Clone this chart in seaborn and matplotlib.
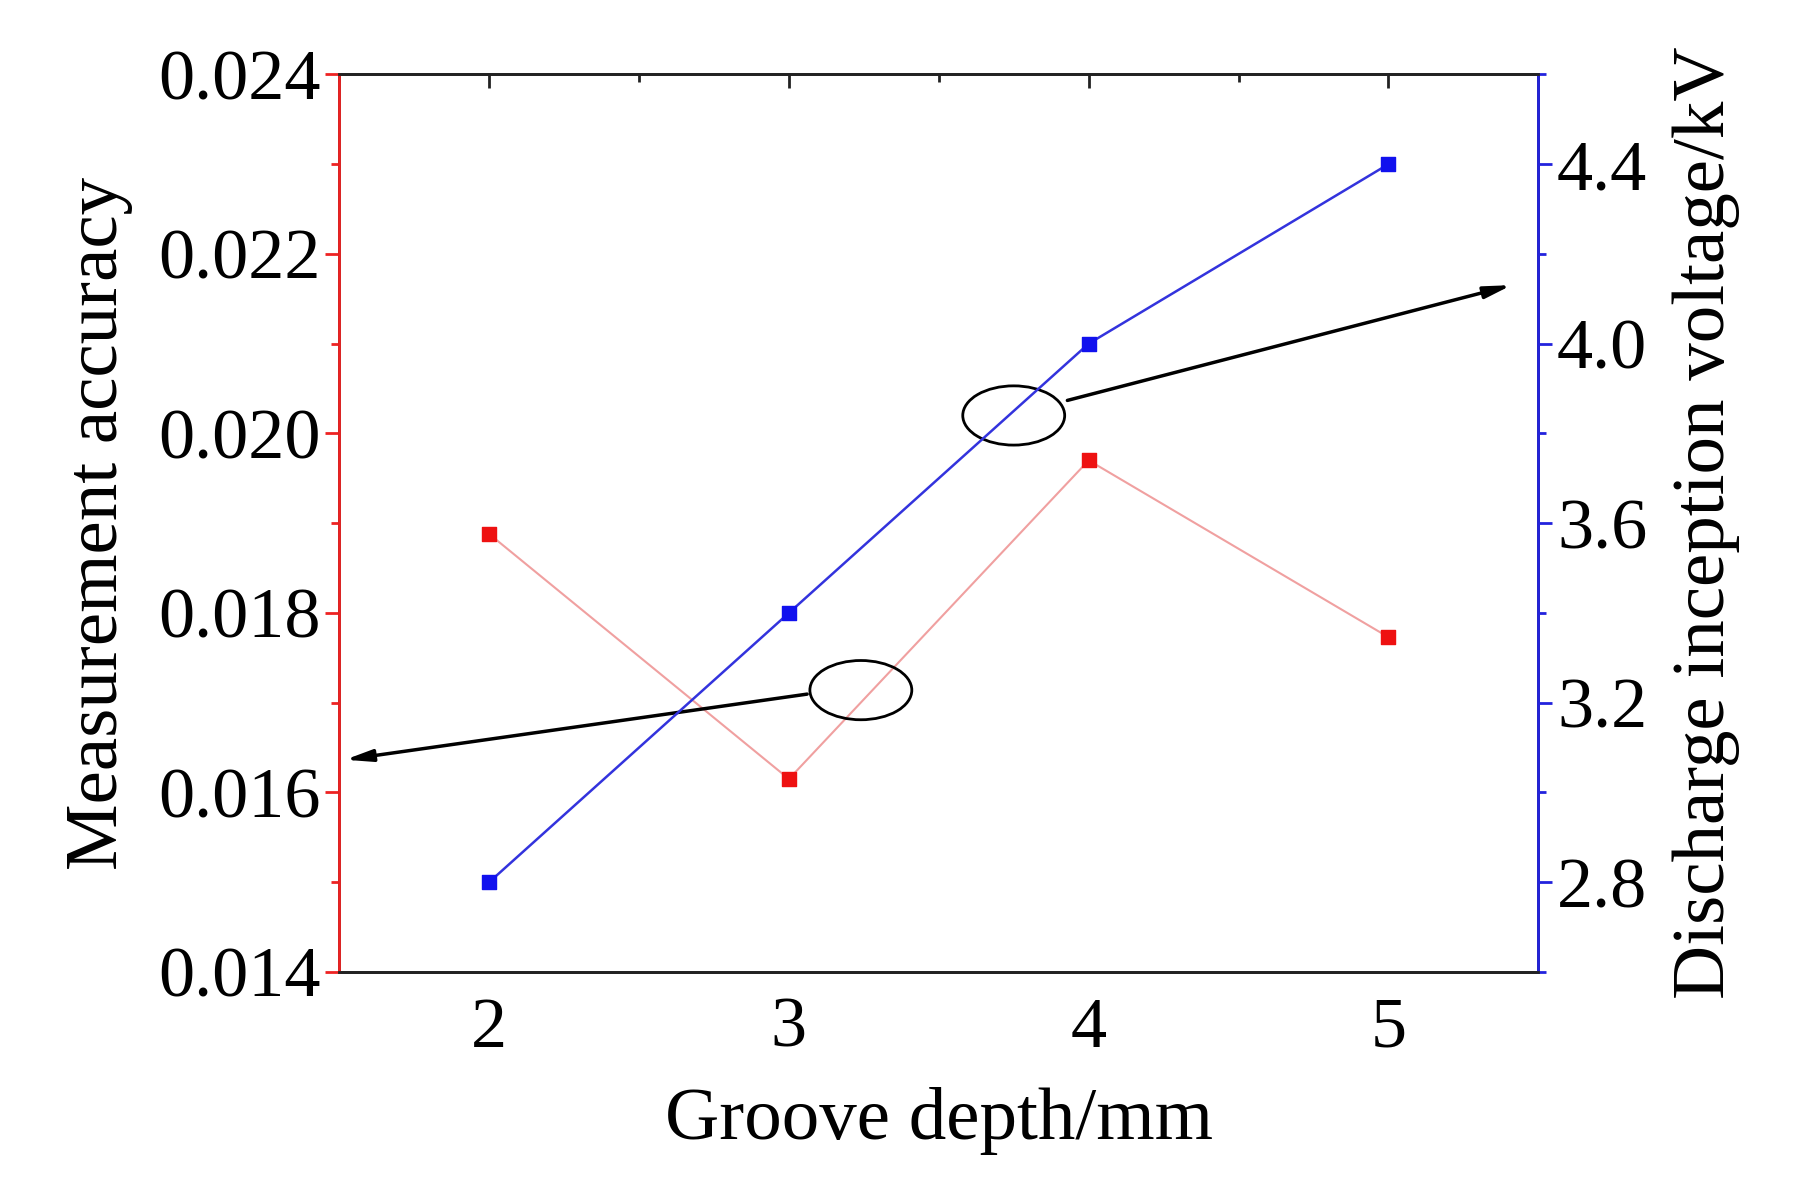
import matplotlib
matplotlib.use("Agg")
import matplotlib.pyplot as plt
from matplotlib.patches import Ellipse
from matplotlib.ticker import MultipleLocator, FormatStrFormatter
import seaborn as sns
import pandas as pd

depth = [2, 3, 4, 5]
accuracy = [0.01888, 0.01615, 0.01970, 0.01773]
voltage = [2.8, 3.4, 4.0, 4.4]

df = pd.DataFrame({"depth": depth, "accuracy": accuracy, "voltage": voltage})

sns.set_style("white")
plt.rcParams["font.family"] = "Liberation Serif"
plt.rcParams["text.color"] = "black"
plt.rcParams["axes.labelcolor"] = "black"
plt.rcParams["xtick.labelcolor"] = "black"
plt.rcParams["ytick.labelcolor"] = "black"

fig = plt.figure(figsize=(17.95, 11.81), dpi=100)
ax = fig.add_axes([0.189, 0.177, 0.668, 0.76])
ax2 = ax.twinx()

sns.lineplot(data=df, x="depth", y="accuracy", ax=ax, color="#f0a0a0", lw=1.5)
ax.scatter(depth, accuracy, marker="s", s=90, color="#ee1111", zorder=5)
sns.lineplot(data=df, x="depth", y="voltage", ax=ax2, color="#3333dd", lw=1.8)
ax2.scatter(depth, voltage, marker="s", s=90, color="#1111ee", zorder=5)

ax.set_xlim(1.5, 5.5)
ax.set_ylim(0.014, 0.024)
ax2.set_ylim(2.6, 4.6)
ax.set_xticks(depth)
ax.xaxis.set_minor_locator(MultipleLocator(0.5))
ax.yaxis.set_major_locator(MultipleLocator(0.002))
ax.yaxis.set_minor_locator(MultipleLocator(0.001))
ax.yaxis.set_major_formatter(FormatStrFormatter("%.3f"))
ax2.yaxis.set_major_locator(MultipleLocator(0.4))
ax2.yaxis.set_minor_locator(MultipleLocator(0.2))
ax2.yaxis.set_major_formatter(FormatStrFormatter("%.1f"))

for a in (ax, ax2):
    for s in a.spines.values():
        s.set_linewidth(2)
        s.set_color("#222222")
ax2.spines["left"].set_color("#ee2222")
ax2.spines["right"].set_color("#2222dd")

ax.tick_params(axis="x", which="both", top=True, direction="in", labelsize=52, pad=18, color="#222222")
ax.tick_params(axis="x", which="major", length=10, width=2)
ax.tick_params(axis="x", which="minor", length=6, width=2)
ax.tick_params(axis="y", which="both", direction="out", color="#ee2222", labelsize=52, width=2)
ax.tick_params(axis="y", which="major", length=10)
ax.tick_params(axis="y", which="minor", length=6)
ax2.tick_params(axis="y", which="both", direction="out", color="#2222dd", labelsize=52, width=2)
ax2.tick_params(axis="y", which="major", length=10)
ax2.tick_params(axis="y", which="minor", length=6)

ax.set_xlabel("Groove depth/mm", fontsize=54, labelpad=18)
ax.set_ylabel("Measurement accuracy", fontsize=54, labelpad=18)
ax2.set_ylabel("Discharge inception voltage/kV", fontsize=54, labelpad=18)

ax.add_patch(Ellipse((3.75, 0.0202), 0.34, 0.00066, fill=False, lw=2, color="black", zorder=6))
ax.add_patch(Ellipse((3.24, 0.01714), 0.34, 0.00066, fill=False, lw=2, color="black", zorder=6))
ax.annotate("", xy=(5.42, 0.02166), xytext=(3.92, 0.02036),
            arrowprops=dict(arrowstyle="-|>,head_length=1.6,head_width=0.35", color="black", lw=2.5))
ax.annotate("", xy=(1.51, 0.01636), xytext=(3.07, 0.01710),
            arrowprops=dict(arrowstyle="-|>,head_length=1.6,head_width=0.35", color="black", lw=2.5))

fig.savefig("out.png", dpi=100, facecolor="white")
